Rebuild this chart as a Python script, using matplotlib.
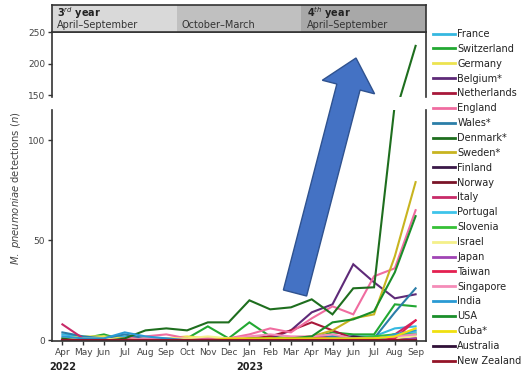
import numpy as np
import matplotlib
matplotlib.use("Agg")
import matplotlib.pyplot as plt
import matplotlib.transforms as mtransforms
from matplotlib.patches import Polygon

# months Apr 2022 .. Sep 2023
months = ['Apr', 'May', 'Jun', 'Jul', 'Aug', 'Sep', 'Oct', 'Nov', 'Dec',
          'Jan', 'Feb', 'Mar', 'Apr', 'May', 'Jun', 'Jul', 'Aug', 'Sep']
years = ['2022', '2023']
year_pos = [0, 9]

countries = ['France', 'Switzerland', 'Germany', 'Belgium*', 'Netherlands', 'England',
             'Wales*', 'Denmark*', 'Sweden*', 'Finland', 'Norway', 'Italy', 'Portugal',
             'Slovenia', 'Israel', 'Japan', 'Taiwan', 'Singapore', 'India', 'USA',
             'Cuba*', 'Australia', 'New Zealand']

colors = ['#35b8e0', '#22a832', '#ece350', '#5e2a78', '#a8183a', '#f06ca0',
          '#2b7ea8', '#1e6e1e', '#c8b420', '#3a1848', '#7a1428', '#c82a68', '#3ec4ea',
          '#36c036', '#f4f08a', '#a044b4', '#e42050', '#f48cb8', '#2a9ad4', '#1a8e2a',
          '#f0e010', '#301038', '#941428']

# estimated monthly detections per country
france      = [3, 2, 1, 2, 1, 1, 0, 0, 0, 1, 1, 1, 1, 2, 2, 2, 6, 7]
switzerland = [0, 1, 3, 0, 0, 0, 1, 7, 1, 9, 2, 1, 1, 4, 3, 3, 18, 17]
germany     = [1, 2, 2, 1, 1, 1, 2, 1, 1, 1, 1, 1, 1, 1, 1, 1, 3, 4]
belgium     = [0, 0, 0, 0, 0, 0, 0, 0, 0, 0, 1, 5, 14, 18, 38, 29, 21, 23]
netherlands = [0, 0, 0, 0, 0, 0, 0, 0, 0, 1, 2, 5, 9, 5, 1, 0, 0, 1]
england     = [0, 0, 0, 1, 2, 3, 1, 1, 1, 3, 6, 4, 11, 17, 13, 32, 36, 65]
wales       = [4, 2, 1, 3, 1, 1, 0, 0, 0, 0, 0, 0, 1, 2, 1, 1, 14, 26]
denmark     = [1, 0, 0, 1, 5, 6, 5, 9, 9, 20, 15.5, 16.5, 20.5, 13, 26, 26.5, 118, 228]
sweden      = [0, 0, 0, 0, 0, 0, 0, 0, 0, 0, 0, 1, 2, 5, 11, 13, 42, 79]
finland     = [0, 0, 0, 0, 0, 0, 0, 0, 0, 0, 0, 0, 1, 1, 2, 1, 1, 1]
norway      = [0, 0, 0, 0, 0, 0, 0, 0, 0, 0, 0, 0, 0, 0, 0, 0, 0, 0]
italy       = [8, 1, 0, 0, 0, 0, 0, 0, 0, 0, 0, 1, 2, 1, 1, 1, 3, 10]
portugal    = [0, 0, 0, 0, 0, 0, 0, 0, 0, 0, 0, 0, 0, 0, 0, 1, 3, 4]
slovenia    = [0, 0, 0, 0, 0, 0, 0, 0, 0, 0, 0, 0, 0, 1, 1, 2, 3, 3]
israel      = [0, 1, 1, 0, 1, 1, 1, 2, 1, 0, 1, 0, 0, 0, 0, 0, 1, 2]
japan       = [0, 0, 0, 0, 0, 0, 0, 0, 0, 0, 0, 0, 0, 0, 0, 0, 0, 1]
taiwan      = [0, 0, 0, 0, 0, 0, 0, 0, 0, 0, 0, 0, 0, 0, 0, 0, 1, 10]
singapore   = [0, 0, 0, 0, 1, 1, 0, 0, 1, 2, 3, 2, 2, 3, 1, 1, 2, 3]
india       = [2, 1, 1, 4, 2, 1, 0, 0, 0, 0, 0, 0, 0, 1, 1, 0, 3, 5]
usa         = [0, 0, 0, 0, 0, 0, 0, 0, 0, 1, 1, 1, 2, 9, 10.5, 14.5, 34, 62]
cuba        = [0, 0, 0, 0, 0, 0, 0, 0, 1, 1, 1, 1, 1, 1, 1, 1, 2, 6]
australia   = [0, 0, 0, 0, 0, 0, 0, 0, 0, 0, 0, 0, 0, 0, 0, 0, 0, 0]
new_zealand = [0, 0, 0, 0, 0, 0, 0, 0, 0, 0, 0, 0, 0, 0, 0, 0, 0, 0]

series = [france, switzerland, germany, belgium, netherlands, england, wales, denmark,
          sweden, finland, norway, italy, portugal, slovenia, israel, japan, taiwan,
          singapore, india, usa, cuba, australia, new_zealand]

periods = [('3$^{rd}$ year', 'April\u2013September'), ('', 'October\u2013March'),
           ('4$^{th}$ year', 'April\u2013September')]
period_colors = ['#d9d9d9', '#c0c0c0', '#a8a8a8']

W, H = 524, 375
fig = plt.figure(figsize=(W / 100, H / 100), dpi=100)

def frac(x0, y0, x1, y1):
    # pixel box (top-left origin) -> figure fraction rect
    return [x0 / W, 1 - y1 / H, (x1 - x0) / W, (y1 - y0) / H]

ax_lo = fig.add_axes(frac(52, 110, 426, 341))
ax_hi = fig.add_axes(frac(52, 32, 426, 97))
ax_hd = fig.add_axes(frac(52, 5, 426, 32))

x = np.arange(len(months))
axis_col = '#333333'
for ax in (ax_lo, ax_hi):
    for s, c in zip(series, colors):
        ax.plot(x, s, color=c, lw=1.5, solid_joinstyle='miter')
    ax.set_xlim(-0.5, 17.5)
    for sp in ax.spines.values():
        sp.set_color(axis_col)
        sp.set_linewidth(1.2)
    ax.tick_params(colors=axis_col, labelcolor='#444444', labelsize=6.5, length=3, width=1, pad=2)

ax_lo.set_ylim(-0.3, 115)
ax_lo.set_yticks([0, 50, 100])
ax_lo.spines['top'].set_visible(False)
ax_lo.set_xticks(x)
ax_lo.set_xticklabels(months)

ax_hi.set_ylim(147, 250)
ax_hi.set_yticks([150, 200, 250])
ax_hi.spines['bottom'].set_visible(False)
ax_hi.set_xticks([])

# header band with seasons
ax_hd.set_xlim(-0.5, 17.5)
ax_hd.set_ylim(0, 1)
for i, ((top, bottom), pc) in enumerate(zip(periods, period_colors)):
    lo = -0.5 + 6 * i
    ax_hd.axvspan(lo, lo + 6, color=pc, lw=0)
    ax_hd.text(lo + 0.25, 0.7, top, fontsize=7, fontweight='bold', color='#222222', va='center')
    ax_hd.text(lo + 0.25, 0.27, bottom, fontsize=7, color='#333333', va='center')
ax_hd.set_xticks([])
ax_hd.set_yticks([])
for sp in ax_hd.spines.values():
    sp.set_color(axis_col)
    sp.set_linewidth(1.2)

# year labels under the month ticks
year_tf = mtransforms.blended_transform_factory(ax_lo.transData, fig.transFigure)
for yr, pos in zip(years, year_pos):
    ax_lo.text(pos, 1 - 367 / H, yr, transform=year_tf, ha='center', va='center',
               fontsize=7, fontweight='bold', color='#222222')

fig.text(16 / W, 1 - 188 / H, r'$\it{M.\ pneumoniae}$ detections ($\it{n}$)',
         rotation=90, ha='center', va='center', fontsize=7.2, color='#444444')

# legend
handles = [plt.Line2D([], [], color=c, lw=2) for c in colors]
fig.legend(handles, countries, loc='upper left', bbox_to_anchor=(433 / W, 1 - 29 / H),
           frameon=False, fontsize=7, labelspacing=0.5, handlelength=2.3,
           handletextpad=0.2, borderpad=0, borderaxespad=0, labelcolor='#222222')

# big blue arrow overlay
tip = np.array([356.0, 58.0])
base = np.array([295.0, 293.0])
u = (tip - base) / np.linalg.norm(tip - base)
n = np.array([-u[1], u[0]])
neck = tip - 30 * u
pts = [base - 12 * n, neck - 12 * n, neck - 27 * n, tip, neck + 27 * n, neck + 12 * n, base + 12 * n]
pts = [(p[0] / W, 1 - p[1] / H) for p in pts]
fig.patches.append(Polygon(pts, closed=True, transform=fig.transFigure,
                           facecolor='#4472c4', edgecolor='#2f528f', lw=1, zorder=10))

fig.savefig('out.png', dpi=100)
